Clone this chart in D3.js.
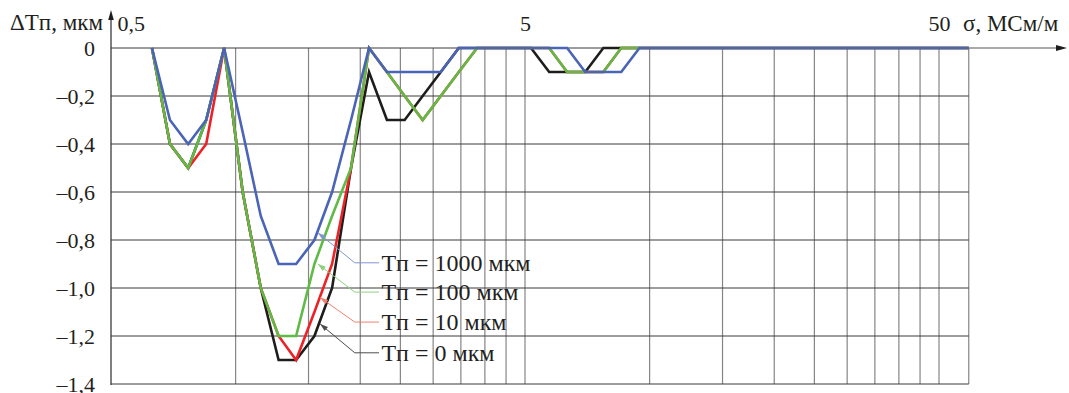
<!DOCTYPE html>
<meta charset="utf-8">
<style>
body { margin: 0; background: #fff; }
text { font-family: "Liberation Serif", "Times New Roman", serif; fill: #231f20; }
.line { fill: none; stroke-width: 2.6px; stroke-linejoin: miter; }
.hgrid { stroke: #3a3a3a; stroke-width: 1px; }
.vgrid { stroke: #858585; stroke-width: 1.2px; }
.leader { fill: none; stroke-width: 1px; }
</style>
<body>

<script src="https://d3js.org/d3.v7.min.js"></script>
<script>

//////////////// DATA ////////////////
// conductivity of the calculated points, МСм/м (log axis)
var sigma = [0.628, 0.694, 0.768, 0.849, 0.938, 1.04, 1.15, 1.27, 1.40, 1.55,
             1.71, 1.90, 2.10, 2.32, 2.56, 2.83, 3.13, 3.46, 3.83, 4.23,
             4.68, 5.17, 5.72, 6.32, 6.99, 7.73, 8.54, 9.45, 59];

// ΔTп, мкм for each coating thickness
var dT0    = [0, -0.4, -0.5, -0.3, 0, -0.6, -1.0, -1.3, -1.3, -1.2,
              -1.0, -0.5, -0.1, -0.3, -0.3, -0.2, -0.1, 0, 0, 0,
              0, 0, -0.1, -0.1, -0.1, 0, 0, 0, 0];
var dT10   = [0, -0.4, -0.5, -0.4, 0, -0.6, -1.0, -1.2, -1.3, -1.1,
              -0.9, -0.5, 0, -0.1, -0.2, -0.3, -0.2, -0.1, 0, 0,
              0, 0, 0, -0.1, -0.1, -0.1, 0, 0, 0];
var dT100  = [0, -0.4, -0.5, -0.3, 0, -0.6, -1.0, -1.2, -1.2, -0.9,
              -0.7, -0.5, 0, -0.1, -0.2, -0.3, -0.2, -0.1, 0, 0,
              0, 0, 0, -0.1, -0.1, -0.1, 0, 0, 0];
var dT1000 = [0, -0.3, -0.4, -0.3, 0, -0.35, -0.7, -0.9, -0.9, -0.8,
              -0.6, -0.3, 0, -0.1, -0.1, -0.1, -0.1, 0, 0, 0,
              0, 0, 0, 0, -0.1, -0.1, -0.1, 0, 0];

var xTicks = [0.5, 5, 50];
var xGrid = [1, 1.5, 2, 2.5, 3, 3.5, 4, 4.5, 5, 10, 15, 20, 25, 30, 35, 40, 45, 50];
var yTicks = [0, -0.2, -0.4, -0.6, -0.8, -1.0, -1.2, -1.4];

var legendNames = ["Tп = 1000 мкм", "Tп = 100 мкм", "Tп = 10 мкм", "Tп = 0 мкм"];
// where each leader touches its curve [σ, ΔT] and the level of its label
var leaderFrom = [[1.58, -0.77], [1.58, -0.90], [1.60, -1.04], [1.60, -1.15]];
var leaderLevel = [-0.895, -1.017, -1.142, -1.27];

var colors = { c0: "#1d1d1b", c10: "#ec2227", c100: "#5fba46", c1000: "#4a64b6" };
var leaderColors = ["#8394d2", "#8fcf7e", "#f2806f", "#4d4d4d"];

// drawing order: black under red under green under blue
var series = [
  { values: dT0, color: colors.c0 },
  { values: dT10, color: colors.c10 },
  { values: dT100, color: colors.c100 },
  { values: dT1000, color: colors.c1000 }
];

//////////////// SCALES ////////////////
var W = 1069, H = 393;
var xMax = sigma[sigma.length - 1];

var x = d3.scaleLog().domain([0.5, 5]).range([111, 525]);
var y = d3.scaleLinear().domain([0, -1.4]).range([48, 384]);

var svg = d3.select("body").append("svg")
    .attr("width", W)
    .attr("height", H);

svg.append("rect").attr("width", W).attr("height", H).attr("fill", "#fff");

// grid
svg.selectAll(".vgrid").data(xGrid.concat([xMax])).enter().append("line")
    .attr("class", "vgrid")
    .attr("x1", function(d) { return x(d); })
    .attr("x2", function(d) { return x(d); })
    .attr("y1", y(0))
    .attr("y2", y(-1.4));

svg.selectAll(".hgrid").data(yTicks).enter().append("line")
    .attr("class", "hgrid")
    .attr("x1", x(0.5))
    .attr("x2", x(xMax))
    .attr("y1", function(d) { return y(d); })
    .attr("y2", function(d) { return y(d); });

// axes with arrows
svg.append("line")
    .attr("x1", x(0.5)).attr("x2", x(0.5))
    .attr("y1", y(-1.4) + 1).attr("y2", 18)
    .attr("stroke", "#2b2b2b").attr("stroke-width", 1.2);
svg.append("path")
    .attr("d", "M" + x(0.5) + ",10 l-2.8,10 l5.6,0 z")
    .attr("fill", "#1d1d1b");

svg.append("line")
    .attr("x1", x(xMax)).attr("x2", 1058)
    .attr("y1", y(0)).attr("y2", y(0))
    .attr("stroke", "#555").attr("stroke-width", 1.2);
svg.append("path")
    .attr("d", "M1067," + y(0) + " l-11,-3 l0,6 z")
    .attr("fill", "#1d1d1b");

//////////////// LINES ////////////////
series.forEach(function(s) {
  var line = d3.line()
      .x(function(d, i) { return x(sigma[i]); })
      .y(function(d) { return y(d); });
  svg.append("path")
      .datum(s.values)
      .attr("class", "line")
      .attr("stroke", s.color)
      .attr("d", line);
});

//////////////// TICK LABELS ////////////////
var xAxis = svg.append("g")
    .attr("transform", "translate(0," + y(0) + ")")
    .call(d3.axisTop(x).tickValues(xTicks).tickSize(0).tickPadding(17)
      .tickFormat(function(d) { return String(d).replace(".", ","); }));
xAxis.select(".domain").remove();
xAxis.attr("font-family", null).attr("font-size", 22);
xAxis.selectAll("text").attr("fill", "#231f20");
// the 0,5 label sits just right of the vertical axis
xAxis.selectAll(".tick").filter(function(d) { return d === 0.5; })
    .select("text").attr("text-anchor", "start").attr("x", 6);

var yAxis = svg.append("g")
    .attr("transform", "translate(" + x(0.5) + ",0)")
    .call(d3.axisLeft(y).tickValues(yTicks).tickSize(0).tickPadding(16)
      .tickFormat(function(d) {
        return d === 0 ? "0" : "\u2013" + Math.abs(d).toFixed(1).replace(".", ",");
      }));
yAxis.select(".domain").remove();
yAxis.attr("font-family", null).attr("font-size", 22);
yAxis.selectAll("text").attr("fill", "#231f20");

// axis titles
svg.append("text").attr("x", 10).attr("y", 30).attr("font-size", 23).text("ΔTп, мкм");
svg.append("text").attr("x", 963).attr("y", 31).attr("font-size", 23).text("σ, МСм/м");

//////////////// LEGEND WITH LEADERS ////////////////
legendNames.forEach(function(name, i) {
  var ax = x(leaderFrom[i][0]), ay = y(leaderFrom[i][1]);
  var ex = x(1.94), ly = y(leaderLevel[i]);
  var endX = x(2.22);
  svg.append("path")
      .attr("class", "leader")
      .attr("stroke", leaderColors[i])
      .attr("d", "M" + ax + "," + ay + " L" + ex + "," + ly + " L" + endX + "," + ly);
  // small arrow head pointing at the curve
  var ang = Math.atan2(ay - ly, ax - ex);
  var len = 8, hw = 2.6;
  var bx = ax - len * Math.cos(ang), by = ay - len * Math.sin(ang);
  var px = -Math.sin(ang) * hw, py = Math.cos(ang) * hw;
  svg.append("path")
      .attr("fill", leaderColors[i])
      .attr("d", "M" + ax + "," + ay + " L" + (bx + px) + "," + (by + py) +
                 " L" + (bx - px) + "," + (by - py) + " Z");
  svg.append("text")
      .attr("x", x(2.25))
      .attr("y", ly + 8)
      .attr("font-size", 24)
      .text(name);
});

</script>
</body>
